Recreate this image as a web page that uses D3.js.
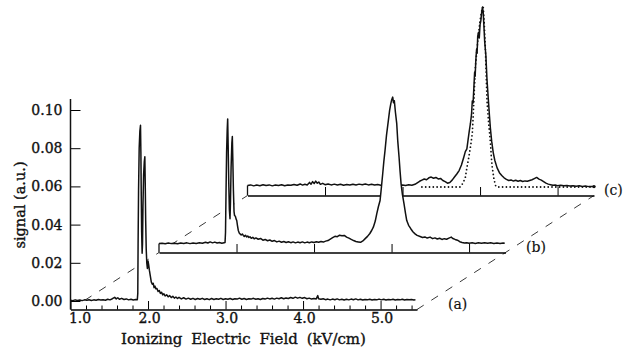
<!DOCTYPE html>
<html>
<head>
<meta charset="utf-8">
<script src="https://cdn.jsdelivr.net/npm/d3@7"></script>
<style>
  body { margin: 0; background: #fff; }
  svg text { font-family: "DejaVu Serif", serif; fill: #111; stroke: #111; stroke-width: 0.35px; }
</style>
</head>
<body>
<div class="stacked-traces"></div>
<script>
// signal vs ionizing field, [kV/cm, a.u.], three runs drawn in a stacked perspective
const traceA = [
  [1.00,0.0004],[1.03,0.0002],[1.06,0.0006],[1.09,0.0003],[1.12,0.0005],[1.15,0.0002],[1.18,0.0006],[1.21,0.0004],
  [1.24,0.0007],[1.27,0.0003],[1.30,0.0006],[1.33,0.0004],[1.36,0.0008],[1.39,0.0005],[1.42,0.0007],[1.45,0.0004],
  [1.48,0.0009],[1.51,0.0006],[1.54,0.0012],[1.57,0.0019],[1.59,0.0011],[1.61,0.0017],[1.63,0.0009],[1.66,0.0014],
  [1.69,0.0008],[1.72,0.0011],[1.75,0.0006],[1.78,0.0009],[1.81,0.0005],[1.84,0.0008],[1.862,0.0007],
  [1.868,0.004],[1.872,0.030],[1.878,0.058],[1.886,0.080],[1.895,0.089],[1.903,0.092],[1.908,0.078],[1.913,0.055],
  [1.918,0.036],[1.924,0.025],[1.929,0.030],[1.935,0.050],[1.943,0.066],[1.952,0.073],[1.959,0.0755],[1.964,0.062],
  [1.970,0.042],[1.977,0.027],[1.984,0.020],[1.992,0.017],[2.000,0.021],[2.008,0.019],[2.018,0.016],[2.030,0.013],
  [2.042,0.010],[2.055,0.0088],[2.067,0.0093],[2.078,0.0070],[2.090,0.0078],[2.100,0.0064],[2.115,0.0066],[2.130,0.0050],
  [2.145,0.0055],[2.160,0.0040],[2.175,0.0046],[2.190,0.0032],[2.205,0.0038],[2.22,0.0026],[2.24,0.0033],[2.26,0.0022],
  [2.28,0.0028],[2.30,0.0018],[2.32,0.0025],[2.34,0.0015],[2.36,0.0021],[2.38,0.0013],[2.40,0.0019],[2.43,0.0011],
  [2.46,0.0017],[2.49,0.0010],[2.52,0.0015],[2.55,0.0009],[2.58,0.0014],[2.61,0.0008],[2.64,0.0013],[2.67,0.0009],
  [2.70,0.0014],[2.73,0.0008],[2.76,0.0012],[2.79,0.0007],[2.82,0.0013],[2.85,0.0008],[2.88,0.0012],[2.91,0.0009],
  [2.94,0.0014],[2.97,0.0008],[3.00,0.0012],[3.03,0.0009],[3.06,0.0013],[3.09,0.0008],[3.12,0.0012],[3.15,0.0010],
  [3.18,0.0015],[3.21,0.0009],[3.24,0.0013],[3.27,0.0008],[3.30,0.0012],[3.33,0.0010],[3.36,0.0014],[3.39,0.0009],
  [3.42,0.0012],[3.45,0.0008],[3.48,0.0013],[3.51,0.0010],[3.54,0.0015],[3.57,0.0011],[3.60,0.0014],[3.63,0.0010],
  [3.66,0.0015],[3.69,0.0012],[3.72,0.0017],[3.75,0.0012],[3.78,0.0016],[3.81,0.0013],[3.84,0.0018],[3.87,0.0014],
  [3.90,0.0020],[3.93,0.0015],[3.96,0.0019],[3.99,0.0014],[4.02,0.0018],[4.05,0.0012],[4.08,0.0015],[4.11,0.0010],
  [4.14,0.0013],[4.17,0.0011],[4.19,0.0028],[4.20,0.0012],[4.23,0.0009],[4.26,0.0012],[4.29,0.0007],[4.32,0.0010],
  [4.35,0.0006],[4.38,0.0010],[4.41,0.0007],[4.44,0.0011],[4.47,0.0006],[4.50,0.0009],[4.53,0.0005],[4.56,0.0009],
  [4.59,0.0006],[4.62,0.0010],[4.65,0.0007],[4.68,0.0011],[4.71,0.0006],[4.74,0.0009],[4.77,0.0005],[4.80,0.0008],
  [4.83,0.0006],[4.86,0.0009],[4.89,0.0005],[4.92,0.0008],[4.95,0.0006],[4.98,0.0010],[5.01,0.0006],[5.04,0.0009],
  [5.07,0.0005],[5.10,0.0008],[5.13,0.0006],[5.16,0.0009],[5.19,0.0005],[5.22,0.0008],[5.25,0.0006],[5.28,0.0009],
  [5.31,0.0005],[5.34,0.0008],[5.37,0.0006],[5.40,0.0008],[5.43,0.0005],[5.45,0.0006]
];

const traceB = [
  [1.00,0.0002],[1.04,0.0004],[1.08,0.0001],[1.12,0.0005],[1.16,0.0002],[1.20,0.0004],[1.24,0.0001],[1.28,0.0005],
  [1.32,0.0003],[1.36,0.0006],[1.40,0.0002],[1.44,0.0005],[1.48,0.0003],[1.52,0.0006],[1.56,0.0004],[1.60,0.0009],
  [1.63,0.0005],[1.66,0.0011],[1.69,0.0006],[1.72,0.0010],[1.75,0.0005],[1.78,0.0008],[1.81,0.0004],[1.84,0.0007],
  [1.852,0.0008],[1.858,0.006],[1.864,0.025],[1.872,0.048],[1.880,0.060],[1.886,0.0655],[1.892,0.052],[1.900,0.032],
  [1.908,0.018],[1.916,0.0132],[1.922,0.022],[1.930,0.040],[1.940,0.053],[1.946,0.0563],[1.952,0.045],[1.960,0.028],
  [1.968,0.017],[1.975,0.0149],[1.985,0.0145],[1.995,0.0130],[2.003,0.0123],[2.013,0.0095],[2.023,0.0071],[2.035,0.0058],
  [2.045,0.0053],[2.06,0.0047],[2.075,0.0052],[2.088,0.0045],[2.10,0.0040],[2.115,0.0046],[2.13,0.0037],[2.145,0.0042],
  [2.16,0.0034],[2.174,0.0038],[2.19,0.0030],[2.21,0.0035],[2.23,0.0027],[2.25,0.0032],[2.28,0.0025],[2.31,0.0029],
  [2.34,0.0020],[2.37,0.0024],[2.40,0.0017],[2.43,0.0021],[2.46,0.0014],[2.49,0.0018],[2.52,0.0011],[2.55,0.0015],
  [2.58,0.0009],[2.61,0.0013],[2.64,0.0008],[2.67,0.0012],[2.70,0.0007],[2.73,0.0011],[2.76,0.0006],[2.79,0.0010],
  [2.82,0.0007],[2.85,0.0011],[2.88,0.0006],[2.91,0.0010],[2.94,0.0007],[2.97,0.0011],[3.00,0.0008],[3.03,0.0012],
  [3.06,0.0009],[3.09,0.0013],[3.12,0.0010],[3.15,0.0015],[3.18,0.0018],[3.21,0.0026],[3.24,0.0033],[3.27,0.0040],
  [3.30,0.0038],[3.33,0.0046],[3.36,0.0043],[3.39,0.0045],[3.42,0.0036],[3.45,0.0031],[3.48,0.0024],[3.51,0.0018],
  [3.54,0.0013],[3.57,0.0011],[3.60,0.0009],[3.63,0.0016],[3.66,0.0028],[3.69,0.0040],[3.72,0.0055],[3.745,0.0072],
  [3.765,0.0088],[3.79,0.0120],[3.809,0.0158],[3.83,0.0195],[3.852,0.0228],[3.87,0.030],[3.886,0.0368],[3.90,0.043],
  [3.916,0.049],[3.935,0.057],[3.959,0.0647],[3.975,0.070],[3.990,0.0734],[4.000,0.0752],[4.015,0.0769],[4.025,0.0740],
  [4.036,0.0750],[4.05,0.069],[4.067,0.063],[4.080,0.054],[4.097,0.0454],[4.110,0.038],[4.123,0.0315],[4.140,0.026],
  [4.161,0.021],[4.18,0.016],[4.196,0.0123],[4.22,0.0098],[4.248,0.0080],[4.275,0.0064],[4.303,0.0053],[4.33,0.0045],
  [4.368,0.0039],[4.40,0.0034],[4.43,0.0037],[4.46,0.0031],[4.497,0.0036],[4.53,0.0028],[4.56,0.0032],[4.59,0.0026],
  [4.62,0.0030],[4.65,0.0024],[4.68,0.0028],[4.71,0.0025],[4.74,0.0031],[4.77,0.0036],[4.79,0.0029],[4.82,0.0024],
  [4.85,0.0020],[4.88,0.0012],[4.91,0.0008],[4.94,0.0005],[4.97,0.0007],[5.00,0.0004],[5.04,0.0006],[5.08,0.0003],
  [5.12,0.0006],[5.16,0.0004],[5.20,0.0007],[5.24,0.0004],[5.28,0.0006],[5.32,0.0003],[5.36,0.0005],[5.40,0.0003],
  [5.44,0.0005],[5.46,0.0004]
];

const traceC = [
  [1.00,0.0008],[1.04,0.0011],[1.08,0.0006],[1.12,0.0010],[1.16,0.0007],[1.20,0.0012],[1.24,0.0008],[1.28,0.0011],
  [1.32,0.0006],[1.36,0.0010],[1.40,0.0008],[1.44,0.0012],[1.48,0.0007],[1.52,0.0011],[1.56,0.0009],[1.60,0.0013],
  [1.64,0.0009],[1.68,0.0016],[1.71,0.0010],[1.74,0.0014],[1.77,0.0011],[1.80,0.0024],[1.82,0.0015],[1.84,0.0028],
  [1.86,0.0018],[1.88,0.0031],[1.90,0.0020],[1.92,0.0026],[1.94,0.0014],[1.97,0.0019],[2.00,0.0012],[2.04,0.0016],
  [2.08,0.0011],[2.12,0.0015],[2.16,0.0010],[2.20,0.0014],[2.24,0.0009],[2.28,0.0013],[2.32,0.0010],[2.36,0.0014],
  [2.40,0.0011],[2.44,0.0015],[2.48,0.0012],[2.52,0.0016],[2.56,0.0011],[2.60,0.0014],[2.64,0.0010],[2.68,0.0013],
  [2.72,0.0009],[2.76,0.0012],[2.80,0.0010],[2.84,0.0012],[2.88,0.0009],[2.92,0.0012],[2.96,0.0008],[3.00,0.0011],
  [3.04,0.0008],[3.08,0.0012],[3.12,0.0009],[3.16,0.0014],[3.19,0.0022],[3.22,0.0030],[3.25,0.0036],[3.28,0.0042],
  [3.31,0.0038],[3.34,0.0048],[3.37,0.0052],[3.40,0.0046],[3.43,0.0050],[3.46,0.0042],[3.49,0.0045],[3.52,0.0034],
  [3.55,0.0028],[3.58,0.0020],[3.61,0.0024],[3.64,0.0036],[3.67,0.0052],[3.70,0.0068],[3.73,0.0086],[3.76,0.0115],
  [3.79,0.0156],[3.81,0.0185],[3.83,0.0200],[3.845,0.0245],[3.86,0.0290],[3.875,0.0330],[3.89,0.0380],[3.90,0.0450],
  [3.91,0.0440],[3.92,0.0520],[3.93,0.0600],[3.937,0.0580],[3.945,0.0660],[3.955,0.0720],[3.962,0.0700],[3.97,0.0790],
  [3.98,0.0810],[3.99,0.0780],[4.00,0.0850],[4.01,0.0870],[4.02,0.0910],[4.03,0.0940],[4.04,0.0920],[4.05,0.0840],
  [4.06,0.0760],[4.075,0.0690],[4.09,0.0560],[4.105,0.0470],[4.12,0.0380],[4.135,0.0300],[4.15,0.0240],[4.17,0.0180],
  [4.19,0.0140],[4.22,0.0100],[4.25,0.0075],[4.28,0.0060],[4.31,0.0048],[4.34,0.0040],[4.37,0.0034],[4.40,0.0037],
  [4.43,0.0031],[4.46,0.0035],[4.49,0.0030],[4.52,0.0034],[4.55,0.0029],[4.58,0.0032],[4.61,0.0030],[4.64,0.0034],
  [4.67,0.0038],[4.70,0.0044],[4.73,0.0050],[4.76,0.0041],[4.79,0.0036],[4.82,0.0028],[4.85,0.0020],[4.88,0.0015],
  [4.91,0.0012],[4.94,0.0009],[4.97,0.0010],[5.00,0.0007],[5.04,0.0009],[5.08,0.0006],[5.12,0.0008],[5.16,0.0005],
  [5.20,0.0007],[5.24,0.0004],[5.28,0.0006],[5.32,0.0003],[5.36,0.0005],[5.40,0.0002],[5.44,0.0003],[5.47,0.0002]
];

// dotted fit curve over trace (c)
const fitC = [
  [3.25,0],[3.74,0],[3.78,0.002],[3.81,0.005],[3.83,0.010],[3.855,0.0156],[3.88,0.022],[3.90,0.028],[3.91,0.036],
  [3.92,0.045],[3.93,0.054],[3.94,0.063],[3.96,0.072],[3.98,0.080],[4.00,0.087],[4.02,0.092],[4.04,0.095],
  [4.055,0.085],[4.07,0.071],[4.08,0.058],[4.09,0.045],[4.11,0.034],[4.135,0.0226],[4.145,0.016],[4.157,0.0104],
  [4.18,0.0040],[4.20,0.0008],[4.22,0],[5.47,0]
];

const yTicks = [0, 0.02, 0.04, 0.06, 0.08, 0.10];
const xMajorTicks = [1, 2, 3, 4, 5];
const panelTicks = [2, 3, 4, 5];
const panelNames = ['(a)', '(b)', '(c)'];

const width = 629, height = 350;
const svg = d3.select('.stacked-traces').append('svg')
  .attr('width', width)
  .attr('height', height);

const x = d3.scaleLinear().domain([1, 5.47]).range([70.5, 417]);
const y = d3.scaleLinear().domain([0, 0.1]).range([301, 110]);
const base = y(0) + 8.5;           // axis line sits a little under the zero level
const step = { dx: 88.5, dy: -57 }; // offset of each panel further back

const panels = [traceA, traceB, traceC].map((data, i) => ({ data, name: panelNames[i], i }));

// depth lines joining the panel corners
const corners = (xv) => panels.map(p => [x(xv) + p.i * step.dx, base + p.i * step.dy]);
[corners(1), corners(5.47)].forEach(pts => {
  svg.append('path')
    .attr('d', d3.line()(pts))
    .attr('fill', 'none')
    .attr('stroke', '#222')
    .attr('stroke-width', 0.9)
    .attr('stroke-dasharray', '8,9');
});

const line = d3.line().x(d => x(d[0])).y(d => y(d[1]));
const area = d3.area().x(d => x(d[0])).y0(base).y1(d => y(d[1]));

// back to front so nearer panels hide the ones behind
panels.slice().reverse().forEach(p => {
  const g = svg.append('g')
    .attr('transform', `translate(${p.i * step.dx},${p.i * step.dy})`);

  g.append('path').datum(p.data)
    .attr('d', area)
    .attr('fill', '#fff');

  if (p.i === 0) {
    // minor ticks every 0.2
    g.append('g')
      .attr('transform', `translate(0,${base})`)
      .call(d3.axisBottom(x)
        .tickValues(d3.range(5, 28).filter(k => k % 5 !== 0).map(k => k / 5))
        .tickSize(-4).tickFormat(''))
      .call(a => a.select('.domain').remove());
    const ax = g.append('g')
      .attr('transform', `translate(0,${base})`)
      .call(d3.axisBottom(x)
        .tickValues(xMajorTicks)
        .tickSizeInner(-(base - y(0)))
        .tickSizeOuter(0)
        .tickPadding(4)
        .tickFormat(d3.format('.1f')));
    ax.selectAll('text').style('font-size', '14px')
      .attr('dx', d => d === 1 ? 9 : 1);
    ax.select('.domain').attr('stroke-width', 1.5);
  } else {
    const ax = g.append('g')
      .attr('transform', `translate(0,${base})`)
      .call(d3.axisBottom(x)
        .tickValues(panelTicks)
        .tickSizeInner(-(base - y(0)))
        .tickSizeOuter(0)
        .tickFormat(''));
    ax.select('.domain').attr('stroke-width', 1.5);
    // left edge of the panel strip
    const first = p.data[0];
    g.append('line')
      .attr('x1', x(first[0])).attr('x2', x(first[0]))
      .attr('y1', y(first[1])).attr('y2', base)
      .attr('stroke', '#111').attr('stroke-width', 1.3);
  }

  if (p.i === 2) {
    g.append('path').datum(fitC)
      .attr('d', line)
      .attr('fill', 'none')
      .attr('stroke', '#111')
      .attr('stroke-width', 1.8)
      .attr('stroke-linecap', 'round')
      .attr('stroke-dasharray', '0,3.8');
  }

  g.append('path').datum(p.data)
    .attr('d', line)
    .attr('fill', 'none')
    .attr('stroke', '#111')
    .attr('stroke-width', 1.5)
    .attr('stroke-linejoin', 'round');

  if (p.i === 2) {
    const last = p.data[p.data.length - 1];
    g.append('circle')
      .attr('cx', x(last[0])).attr('cy', y(last[1]))
      .attr('r', 1.7).attr('fill', '#111');
  }

  g.append('text')
    .text(p.name)
    .attr('x', x(5.47) + 31 - 10.5 * p.i)
    .attr('y', base - 0.5)
    .style('font-size', '14px')
    .style('stroke-width', '0.15px');
});

// y axis on the front panel
const yAx = svg.append('g')
  .attr('transform', `translate(${x(1)},0)`)
  .call(d3.axisLeft(y)
    .tickValues(yTicks)
    .tickSizeInner(-10)
    .tickSizeOuter(0)
    .tickPadding(8)
    .tickFormat(d3.format('.2f')));
yAx.select('.domain').remove();
yAx.selectAll('text').style('font-size', '14px');
svg.append('line')
  .attr('x1', x(1)).attr('x2', x(1))
  .attr('y1', 99).attr('y2', base)
  .attr('stroke', '#111').attr('stroke-width', 1.5);

svg.append('text')
  .text('Ionizing Electric Field (kV/cm)')
  .attr('x', 243.5)
  .attr('y', 344)
  .attr('text-anchor', 'middle')
  .style('font-size', '15px')
  .style('word-spacing', '4px');

svg.append('text')
  .text('signal (a.u.)')
  .attr('transform', 'translate(25,205) rotate(-90)')
  .attr('text-anchor', 'middle')
  .style('font-size', '14.5px');
</script>
</body>
</html>
